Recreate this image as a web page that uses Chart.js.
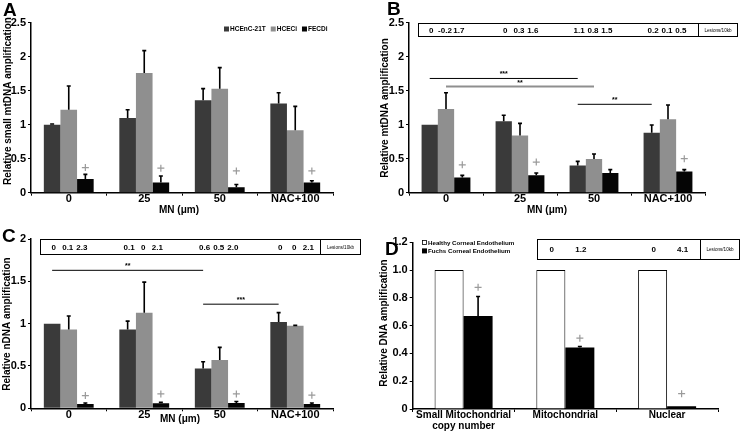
<!DOCTYPE html>
<html>
<head>
<meta charset="utf-8">
<script src="https://cdn.jsdelivr.net/npm/chart.js@4/dist/chart.umd.min.js"></script>
<style>
html, body { margin: 0; padding: 0; background: #fff; }
#wrap { position: relative; width: 741px; height: 434px; }
canvas { position: absolute; }
</style>
</head>
<body>
<div id="wrap">
  <canvas id="chartA" width="370" height="217" style="left:0;top:0"></canvas>
  <canvas id="chartB" width="371" height="217" style="left:370px;top:0"></canvas>
  <canvas id="chartC" width="370" height="217" style="left:0;top:217px"></canvas>
  <canvas id="chartD" width="371" height="217" style="left:370px;top:217px"></canvas>
</div>
<script>
// categories
var doses = ['0', '25', '50', 'NAC+100'];
var cellLines = ['HCEnC-21T', 'HCECi', 'FECDi'];
var dnaTypes = [['Small Mitochondrial', 'copy number'], 'Mitochondrial', 'Nuclear'];
var tissues = ['Healthy Corneal Endothelium', 'Fuchs Corneal Endothelium'];

// A - small mtDNA
var aHcenc = [1.0, 1.1, 1.36, 1.31];
var aHcencErr = [0.01, 0.12, 0.17, 0.16];
var aHceci = [1.22, 1.76, 1.53, 0.92];
var aHceciErr = [0.35, 0.33, 0.31, 0.35];
var aFecdi = [0.2, 0.15, 0.08, 0.15];
var aFecdiErr = [0.07, 0.095, 0.04, 0.025];
var aPlus = [0.37, 0.36, 0.32, 0.32];

// B - mtDNA
var bHcenc = [1.0, 1.05, 0.40, 0.88];
var bHcencErr = [0, 0.09, 0.06, 0.115];
var bHceci = [1.23, 0.84, 0.495, 1.08];
var bHceciErr = [0.24, 0.18, 0.075, 0.21];
var bFecdi = [0.225, 0.255, 0.29, 0.31];
var bFecdiErr = [0.03, 0.035, 0.05, 0.03];
var bPlus = [0.41, 0.45, null, 0.50];
var bLesions = [['0', '-0.2', '1.7'], ['0', '0.3', '1.6'], ['1.1', '0.8', '1.5'], ['0.2', '0.1', '0.5']];
// [dataset, from category, to category, y, label]
var bSig = [[0, 0, 2, 1.68, '***'], [1, 0, 2, 1.56, '**'], [0, 2, 3, 1.30, '**']];

// C - nDNA
var cHcenc = [1.0, 0.93, 0.47, 1.02];
var cHcencErr = [0, 0.10, 0.08, 0.11];
var cHceci = [0.93, 1.13, 0.57, 0.975];
var cHceciErr = [0.16, 0.36, 0.15, 0.005];
var cFecdi = [0.05, 0.06, 0.063, 0.05];
var cFecdiErr = [0.013, 0.01, 0.017, 0.013];
var cPlus = [0.15, 0.17, 0.17, 0.155];
var cLesions = [['0', '0.1', '2.3'], ['0.1', '0', '2.1'], ['0.6', '0.5', '2.0'], ['0', '0', '2.1']];
var cSig = [[0, 0, 2, 1.63, '**'], [0, 2, 3, 1.23, '***']];

// D - tissue
var dHealthy = [1.0, 1.0, 1.0];
var dHealthyErr = [0, 0, 0];
var dFuchs = [0.67, 0.443, 0.02];
var dFuchsErr = [0.14, 0.007, 0];
var dPlus = [0.876, 0.51, 0.11];
var dLesions = [null, ['0', '1.2'], ['0', '4.1']];

var FONT = '"Liberation Sans", Arial, sans-serif';
var barColors = ['#3a3a3a', '#8f8f8f', '#050505'];

var extrasPlugin = {
    id: 'extras',
    afterDatasetsDraw: function(chart, args, o) {
        var ctx = chart.ctx;
        var y = chart.scales.y;
        ctx.save();
        // error bars (upper only)
        o.errors.forEach(function(errs, d) {
            var meta = chart.getDatasetMeta(d);
            var vals = chart.data.datasets[d].data;
            meta.data.forEach(function(bar, i) {
                if (!errs[i]) return;
                var y0 = y.getPixelForValue(vals[i]);
                var y1 = y.getPixelForValue(vals[i] + errs[i]);
                ctx.strokeStyle = '#000';
                ctx.lineWidth = 1.6;
                ctx.beginPath();
                ctx.moveTo(bar.x, y0); ctx.lineTo(bar.x, y1);
                ctx.moveTo(bar.x - 2, y1); ctx.lineTo(bar.x + 2, y1);
                ctx.stroke();
            });
        });
        // + marks over the last series
        var last = chart.getDatasetMeta(chart.data.datasets.length - 1);
        o.plus.forEach(function(v, i) {
            if (v == null) return;
            var px = last.data[i].x, py = y.getPixelForValue(v);
            ctx.strokeStyle = '#9a9a9a';
            ctx.lineWidth = 1.2;
            ctx.beginPath();
            ctx.moveTo(px - 3.5, py); ctx.lineTo(px + 3.5, py);
            ctx.moveTo(px, py - 3.5); ctx.lineTo(px, py + 3.5);
            ctx.stroke();
        });
        // significance lines
        (o.sig || []).forEach(function(s) {
            var meta = chart.getDatasetMeta(s[0]);
            var x0 = meta.data[s[1]].x, x1 = meta.data[s[2]].x;
            var py = y.getPixelForValue(s[3]);
            ctx.strokeStyle = s[0] === 1 ? '#8f8f8f' : '#000';
            ctx.lineWidth = s[0] === 1 ? 2 : 1;
            ctx.beginPath();
            ctx.moveTo(x0, py); ctx.lineTo(x1, py);
            ctx.stroke();
            ctx.fillStyle = '#000';
            ctx.font = 'bold 7px ' + FONT;
            ctx.textAlign = 'center';
            ctx.textBaseline = 'alphabetic';
            ctx.fillText(s[4], (x0 + x1) / 2, py - 2);
        });
        ctx.restore();
    },
    afterDraw: function(chart, args, o) {
        var ctx = chart.ctx;
        ctx.save();
        ctx.fillStyle = '#000';
        // panel letter
        ctx.font = 'bold 19px ' + FONT;
        ctx.textAlign = 'left';
        ctx.textBaseline = 'alphabetic';
        ctx.fillText(o.letter, o.letterX, o.letterY);
        // y title
        ctx.font = 'bold 10px ' + FONT;
        ctx.textAlign = 'center';
        ctx.textBaseline = 'middle';
        ctx.save();
        ctx.translate(o.yTitleX, o.yTitleY);
        ctx.rotate(-Math.PI / 2);
        ctx.fillText(o.yTitle, 0, 0);
        ctx.restore();
        // x title
        if (o.xTitle) ctx.fillText(o.xTitle, o.xTitleX, o.xTitleY);
        // legend
        if (o.legend) {
            var lg = o.legend;
            ctx.font = 'bold ' + lg.size + 'px ' + FONT;
            ctx.textAlign = 'left';
            var lx = lg.x, ly = lg.y;
            chart.data.datasets.forEach(function(ds) {
                ctx.fillStyle = ds.backgroundColor;
                ctx.strokeStyle = '#000';
                ctx.lineWidth = 0.8;
                ctx.fillRect(lx, ly - 2.5, 5, 5);
                if (ds.backgroundColor === '#ffffff') ctx.strokeRect(lx + 0.5, ly - 2, 4, 4);
                ctx.fillStyle = '#000';
                ctx.fillText(ds.label, lx + 6, ly + 0.5);
                if (lg.rows) { ly += lg.rows; }
                else { lx += 6 + ctx.measureText(ds.label).width + 5; }
            });
        }
        // lesion table
        if (o.lesions) {
            var L = o.lesionBox;
            ctx.strokeStyle = '#000';
            ctx.lineWidth = 1;
            ctx.strokeRect(L.x0 + 0.5, L.y0 + 0.5, L.x1 - L.x0, L.y1 - L.y0);
            ctx.beginPath();
            ctx.moveTo(L.div + 0.5, L.y0); ctx.lineTo(L.div + 0.5, L.y1 + 1);
            ctx.stroke();
            var midY = (L.y0 + L.y1) / 2 + 1;
            ctx.font = '4.6px ' + FONT;
            ctx.textAlign = 'center';
            ctx.fillText('Lesions/10kb', (L.div + L.x1) / 2 + 0.5, midY);
            ctx.font = 'bold 8px ' + FONT;
            var xs = chart.scales.x;
            o.lesions.forEach(function(row, i) {
                if (!row) return;
                var gc = xs.getPixelForValue(i);
                row.forEach(function(t, d) {
                    var bx = chart.getDatasetMeta(d).data[i].x;
                    ctx.fillText(t, gc + (bx - gc) * o.squeeze + (o.shift || 0), midY);
                });
            });
        }
        ctx.restore();
    }
};

function makeChart(id, labels, datasets, o) {
    return new Chart(document.getElementById(id).getContext('2d'), {
        type: 'bar',
        data: { labels: labels, datasets: datasets },
        plugins: [extrasPlugin],
        options: {
            responsive: false,
            animation: false,
            layout: { padding: { left: 0, top: o.top, right: o.right, bottom: 0 } },
            datasets: { bar: { categoryPercentage: o.catPct, barPercentage: 1 } },
            plugins: {
                legend: { display: false },
                tooltip: { enabled: false },
                extras: o.extras
            },
            scales: {
                x: {
                    offset: true,
                    grid: { display: true, drawOnChartArea: false, drawTicks: true, tickLength: 3, color: '#000', offset: true },
                    border: { color: '#000', width: 1.5 },
                    ticks: { color: '#000', padding: -3, maxRotation: 0, autoSkip: false,
                             font: { family: FONT, size: o.xFont, weight: 'bold', lineHeight: 1.15 } },
                    afterFit: function(s) { s.height = o.xHeight; }
                },
                y: {
                    min: 0, max: o.yMax,
                    grid: { display: true, drawOnChartArea: false, drawTicks: true, tickLength: 3, color: '#000' },
                    border: { color: '#000', width: 1.5 },
                    ticks: { stepSize: o.yStep, color: '#000', padding: 2,
                             font: { family: FONT, size: 11, weight: 'bold' },
                             callback: o.yFmt },
                    afterFit: function(s) { s.width = o.yWidth; }
                }
            }
        }
    });
}

function series(vals, i) {
    return { label: cellLines[i], data: vals, backgroundColor: barColors[i], borderWidth: 0 };
}

makeChart('chartA', doses, [series(aHcenc, 0), series(aHceci, 1), series(aFecdi, 2)], {
    top: 22.7, right: 37, yWidth: 31, xHeight: 24.3, yMax: 2.5, yStep: 0.5, catPct: 0.66, xFont: 11,
    extras: {
        letter: 'A', letterX: 3, letterY: 16,
        yTitle: 'Relative small mtDNA amplification', yTitleX: 8, yTitleY: 101,
        xTitle: 'MN (\u03bcm)', xTitleX: 179, xTitleY: 210,
        errors: [aHcencErr, aHceciErr, aFecdiErr], plus: aPlus,
        legend: { x: 224, y: 29, size: 6.5 }
    }
});

makeChart('chartB', doses, [series(bHcenc, 0), series(bHceci, 1), series(bFecdi, 2)], {
    top: 22.7, right: 36, yWidth: 39, xHeight: 24.3, yMax: 2.5, yStep: 0.5, catPct: 0.66, xFont: 11,
    extras: {
        letter: 'B', letterX: 17, letterY: 15,
        yTitle: 'Relative mtDNA amplification', yTitleX: 15, yTitleY: 108,
        xTitle: 'MN (\u03bcm)', xTitleX: 177, xTitleY: 210,
        errors: [bHcencErr, bHceciErr, bFecdiErr], plus: bPlus, sig: bSig,
        lesions: bLesions, squeeze: 0.85, shift: -1,
        lesionBox: { x0: 48, x1: 367, y0: 23, y1: 36, div: 328 }
    }
});

makeChart('chartC', doses, [series(cHcenc, 0), series(cHceci, 1), series(cFecdi, 2)], {
    top: 22, right: 37, yWidth: 31, xHeight: 25.7, yMax: 2, yStep: 0.5, catPct: 0.66, xFont: 11,
    extras: {
        letter: 'C', letterX: 2, letterY: 25,
        yTitle: 'Relative nDNA amplification', yTitleX: 7, yTitleY: 107,
        xTitle: 'MN (\u03bcm)', xTitleX: 180, xTitleY: 202,
        errors: [cHcencErr, cHceciErr, cFecdiErr], plus: cPlus, sig: cSig,
        lesions: cLesions, squeeze: 0.85, shift: -1,
        lesionBox: { x0: 40, x1: 360, y0: 22, y1: 37, div: 320 }
    }
});

makeChart('chartD', dnaTypes, [
    { label: tissues[0], data: dHealthy, backgroundColor: '#ffffff', borderColor: '#000', borderWidth: 1 },
    { label: tissues[1], data: dFuchs, backgroundColor: '#000000', borderColor: '#000', borderWidth: 0 }
], {
    top: 25.3, right: 23, yWidth: 42.7, xHeight: 25, yMax: 1.2, yStep: 0.2, catPct: 0.57, xFont: 10,
    yFmt: function(v) { return v === 0 ? '0' : v.toFixed(1); },
    extras: {
        letter: 'D', letterX: 15, letterY: 38,
        yTitle: 'Relative DNA amplification', yTitleX: 14, yTitleY: 106,
        errors: [dHealthyErr, dFuchsErr], plus: dPlus,
        lesions: dLesions, squeeze: 1, shift: 1,
        lesionBox: { x0: 167, x1: 369, y0: 22, y1: 42, div: 330 },
        legend: { x: 52, y: 25.5, size: 6.2, rows: 8.4 }
    }
});
</script>
</body>
</html>
